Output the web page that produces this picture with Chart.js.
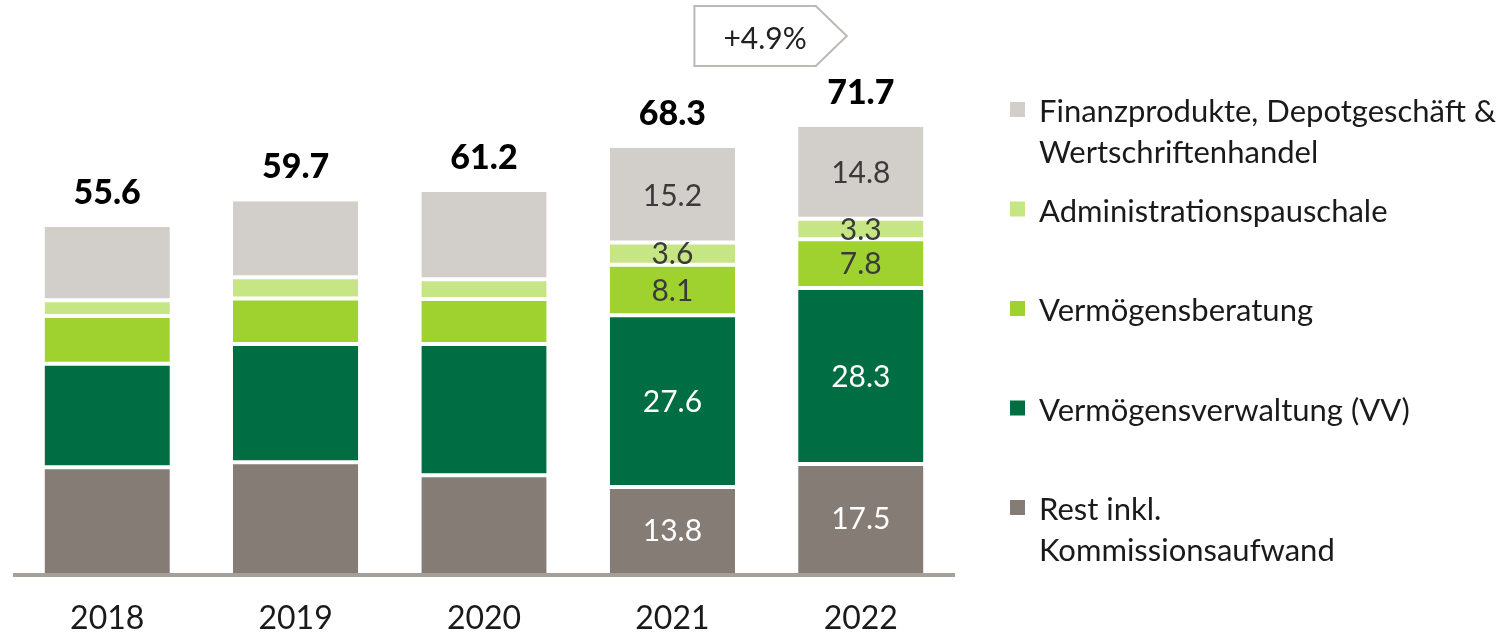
<!DOCTYPE html>
<html>
<head>
<meta charset="utf-8">
<script src="https://cdn.jsdelivr.net/npm/chart.js@4.4.0/dist/chart.umd.min.js"></script>
<style>
  html, body { margin: 0; background: #fff; }
  #wrap { width: 1505px; height: 635px; position: relative; }
</style>
</head>
<body>
<div id="wrap"><canvas id="chart"></canvas></div>
<script>
// values (CHF m)
const years = ['2018', '2019', '2020', '2021', '2022'];
const rest = [17.0, 17.8, 15.7, 13.8, 17.5];
const vv = [16.6, 19.0, 21.1, 27.6, 28.3];
const beratung = [7.7, 7.3, 7.2, 8.1, 7.8];
const admin = [2.5, 3.4, 3.2, 3.6, 3.3];
const finanz = [11.8, 12.2, 14.0, 15.2, 14.8];
const totals = [55.6, 59.7, 61.2, 68.3, 71.7];
const labelledYears = ['2021', '2022'];
const growthLabel = '+4.9%';

const FONT = 'Lato, "Open Sans", sans-serif';

const datasets = [
  { label: 'Rest inkl. Kommissionsaufwand', lines: ['Rest inkl.', 'Kommissionsaufwand'],
    data: rest, backgroundColor: '#857C76', labelColor: '#ffffff',
    borderWidth: { top: 2, bottom: 0, left: 0, right: 0 } },
  { label: 'Vermögensverwaltung (VV)', lines: ['Vermögensverwaltung (VV)'],
    data: vv, backgroundColor: '#006E42', labelColor: '#ffffff',
    borderWidth: { top: 2, bottom: 2, left: 0, right: 0 } },
  { label: 'Vermögensberatung', lines: ['Vermögensberatung'],
    data: beratung, backgroundColor: '#A0D22F', labelColor: '#3a3a3a',
    borderWidth: { top: 2, bottom: 2, left: 0, right: 0 } },
  { label: 'Administrationspauschale', lines: ['Administrationspauschale'],
    data: admin, backgroundColor: '#C6E585', labelColor: '#3a3a3a',
    borderWidth: { top: 2, bottom: 2, left: 0, right: 0 } },
  { label: 'Finanzprodukte, Depotgeschäft & Wertschriftenhandel',
    lines: ['Finanzprodukte, Depotgeschäft &', 'Wertschriftenhandel'],
    data: finanz, backgroundColor: '#D2CFCA', labelColor: '#3a3a3a',
    borderWidth: { top: 0, bottom: 2, left: 0, right: 0 } }
];
datasets.forEach(d => {
  d.borderColor = '#ffffff';
  d.borderSkipped = false;
  d.barPercentage = 0.665;
  d.categoryPercentage = 1;
});

const extras = {
  id: 'extras',
  afterDatasetsDraw(chart) {
    const ctx = chart.ctx;
    const area = chart.chartArea;
    const x = chart.scales.x;
    ctx.save();

    // base line
    ctx.fillStyle = '#A69E98';
    ctx.fillRect(x.left, area.bottom, x.right - x.left, 4);

    // values inside the segments
    ctx.textAlign = 'center';
    ctx.textBaseline = 'middle';
    ctx.font = '30px ' + FONT;
    chart.data.datasets.forEach((ds, i) => {
      const meta = chart.getDatasetMeta(i);
      meta.data.forEach((el, j) => {
        if (!labelledYears.includes(years[j])) return;
        ctx.fillStyle = ds.labelColor;
        ctx.fillText(ds.data[j].toFixed(1), el.x, (el.y + el.base) / 2 + 1);
      });
    });

    // totals above bars
    const top = chart.getDatasetMeta(chart.data.datasets.length - 1);
    ctx.font = '900 34px ' + FONT;
    ctx.fillStyle = '#000';
    ctx.textBaseline = 'alphabetic';
    top.data.forEach((el, j) => {
      ctx.fillText(totals[j].toFixed(1), el.x, el.y - 23);
    });

    // growth arrow box 2021 -> 2022
    const x0 = x.getPixelForValue(3) + 22;
    const x1 = x.getPixelForValue(4) - 14;
    const y0 = 6, y1 = 66, ym = (y0 + y1) / 2;
    ctx.beginPath();
    ctx.moveTo(x0, y0);
    ctx.lineTo(x1 - 31, y0);
    ctx.lineTo(x1, ym);
    ctx.lineTo(x1 - 31, y1);
    ctx.lineTo(x0, y1);
    ctx.closePath();
    ctx.fillStyle = '#fff';
    ctx.fill();
    ctx.strokeStyle = '#BDB8B3';
    ctx.lineWidth = 2;
    ctx.stroke();
    ctx.fillStyle = '#222';
    ctx.font = '30px ' + FONT;
    ctx.textAlign = 'center';
    ctx.fillText(growthLabel, (x0 + x1 - 31) / 2 + 10, 49);

    // legend, top item first
    ctx.textAlign = 'left';
    ctx.font = '31px ' + FONT;
    const rows = chart.data.datasets.slice().reverse();
    rows.forEach((ds, k) => {
      const base = 122 + k * 99.5;
      ctx.fillStyle = ds.backgroundColor;
      ctx.fillRect(1010, base - 20, 15, 15);
      ctx.fillStyle = '#1a1a1a';
      ds.lines.forEach((t, n) => ctx.fillText(t, 1039, base + n * 41));
    });
    ctx.restore();
  }
};

new Chart(document.getElementById('chart'), {
  type: 'bar',
  data: { labels: years, datasets: datasets },
  options: {
    responsive: true,
    maintainAspectRatio: false,
    animation: false,
    layout: { padding: { left: 13, right: 550, top: 75, bottom: -30 } },
    plugins: { legend: { display: false }, tooltip: { enabled: false } },
    scales: {
      x: {
        stacked: true,
        grid: { display: false, drawTicks: false },
        border: { display: false },
        ticks: { color: '#1a1a1a', padding: 30, font: { family: FONT, size: 32, lineHeight: 1 } }
      },
      y: { stacked: true, display: false, min: 0, max: 80 }
    }
  },
  plugins: [extras]
});
</script>
</body>
</html>
